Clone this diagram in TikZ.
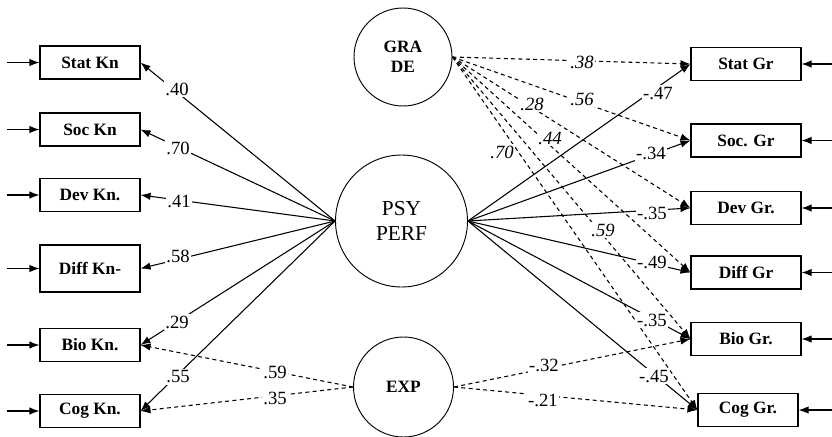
\documentclass[tikz,border=0pt]{standalone}
\usepackage{fontspec}
\setmainfont{Liberation Serif}
\usetikzlibrary{arrows.meta}
\begin{document}
\begin{tikzpicture}[x=0.75pt,y=-0.75pt,
  bfont/.style={font=\fontsize{13}{15}\selectfont\bfseries},
  box/.style={draw,line width=0.8pt,minimum width=75pt,minimum height=24.75pt,inner sep=0pt,bfont},
  rbox/.style={box,minimum width=82.5pt},
  lat/.style={draw,circle,line width=0.7pt,inner sep=0pt,align=center},
  sol/.style={line width=0.8pt,-{Latex[length=7.5pt,width=5.5pt]}},
  dsh/.style={sol,dash pattern=on 3pt off 2.5pt},
  lab/.style={fill=white,inner sep=1pt,font=\fontsize{14}{16}\selectfont},
  ilab/.style={fill=white,inner sep=1pt,font=\fontsize{14}{16}\selectfont\itshape},
  inarr/.style={line width=0.8pt,-{Latex[length=7.5pt,width=5.5pt]}},
]
\useasboundingbox (0,0) rectangle (832,436);

% latent variables
\node[lat,minimum size=73.5pt,bfont] (grade) at (403,57) {GRA\\DE};
\node[lat,minimum size=99pt,font=\fontsize{16}{19}\selectfont] (psy) at (401.5,221) {PSY\\PERF};
\node[lat,minimum size=75pt,bfont] (exp) at (403.5,387) {EXP};

% left boxes
\node[box] (statkn) at (90,62.5) {Stat Kn};
\node[box] (sockn) at (90,129.5) {Soc Kn};
\node[box] (devkn) at (90,195) {Dev Kn.};
\node[box,minimum height=35.25pt] (diffkn) at (90,268.5) {Diff Kn-};
\node[box] (biokn) at (90,345) {Bio Kn.};
\node[box] (cogkn) at (90,411) {Cog Kn.};

% right boxes
\node[rbox] (statgr) at (746,64) {Stat Gr};
\node[rbox] (socgr) at (746,140.5) {Soc. Gr};
\node[rbox] (devgr) at (746,208) {Dev Gr.};
\node[rbox] (diffgr) at (746,272.5) {Diff Gr};
\node[rbox] (biogr) at (746,339) {Bio Gr.};
\node[box] (coggr) at (748,410) {Cog Gr.};

% error arrows
\foreach \n/\y in {statkn/62.5,sockn/129.5,devkn/195,diffkn/268.5,biokn/345,cogkn/411}{
  \coordinate (e\n) at (7,\y);
  \draw[inarr] (e\n) -- (\n);
}
\foreach \n/\y in {statgr/64,socgr/140.5,devgr/208,diffgr/272.5,biogr/339,coggr/410}{
  \coordinate (e\n) at (832,\y);
  \draw[inarr] (e\n) -- (\n);
}

% PSY PERF loadings
\foreach \n in {statkn,sockn,devkn,diffkn,biokn,cogkn}{
  \draw[sol] (psy.west) -- (\n.east);
}
\foreach \n in {statgr,socgr,devgr,diffgr,biogr,coggr}{
  \draw[sol] (psy.east) -- (\n.west);
}
% GRADE loadings
\foreach \n in {statgr,socgr,devgr,diffgr,biogr,coggr}{
  \draw[dsh] (grade.east) -- (\n.west);
}
% EXP loadings
\draw[dsh] (exp.west) -- (biokn.east);
\draw[dsh] (exp.west) -- (cogkn.east);
\draw[dsh] (exp.east) -- (biogr.west);
\draw[dsh] (exp.east) -- (coggr.west);

% labels
\node[lab] (l1) at (177,89) {.40};
\node[lab] (l2) at (178,148) {.70};
\node[lab] (l3) at (179,201) {.41};
\node[lab] (l4) at (178,256) {.58};
\node[lab] (l5) at (177,322) {.29};
\node[lab] (l6) at (178,377) {.55};
\node[lab] (l7) at (275,372) {.59};
\node[lab] (l8) at (275,398) {.35};
\node[lab] (r1) at (658,93) {-.47};
\node[lab] (r2) at (651,153) {-.34};
\node[lab] (r3) at (652,213) {-.35};
\node[lab] (r4) at (652,262) {-.49};
\node[lab] (r5) at (652,320) {-.35};
\node[lab] (r6) at (654,376) {-.45};
\node[lab] (r7) at (544,365) {-.32};
\node[lab] (r8) at (543,400) {-.21};
\node[ilab] (g1) at (582,62) {.38};
\node[ilab] (g2) at (582,99) {.56};
\node[ilab] (g3) at (532,104) {.28};
\node[ilab] (g4) at (550,138) {.44};
\node[ilab] (g5) at (502,152) {.70};
\node[ilab] (g6) at (603,230) {.59};
\end{tikzpicture}
\end{document}
